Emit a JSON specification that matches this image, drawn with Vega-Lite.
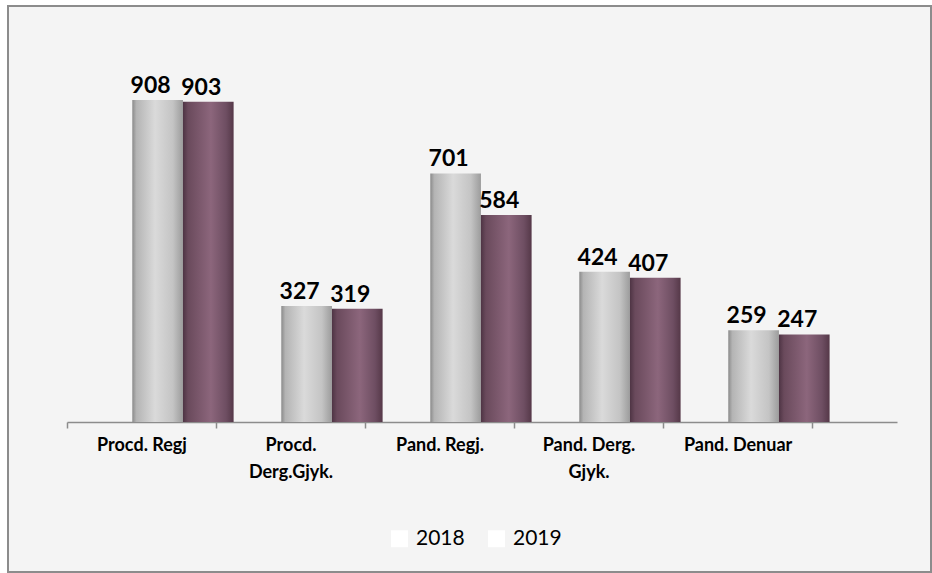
{
  "$schema": "https://vega.github.io/schema/vega-lite/v6.json",
  "width": 923,
  "height": 566,
  "autosize": {"type": "none"},
  "padding": {"left": 8, "top": 6, "right": 1, "bottom": 1},
  "background": "#ffffff",
  "config": {
    "view": {"fill": "#f4f4f4", "stroke": "#8c8c8c", "strokeWidth": 2},
    "font": "Lato"
  },
  "data": {
    "values": [
      {"cat": "Procd. Regj", "year": "2018", "value": 908},
      {"cat": "Procd. Regj", "year": "2019", "value": 903},
      {"cat": "Procd. Derg.Gjyk.", "year": "2018", "value": 327},
      {"cat": "Procd. Derg.Gjyk.", "year": "2019", "value": 319},
      {"cat": "Pand. Regj.", "year": "2018", "value": 701},
      {"cat": "Pand. Regj.", "year": "2019", "value": 584},
      {"cat": "Pand. Derg. Gjyk.", "year": "2018", "value": 424},
      {"cat": "Pand. Derg. Gjyk.", "year": "2019", "value": 407},
      {"cat": "Pand. Denuar", "year": "2018", "value": 259},
      {"cat": "Pand. Denuar", "year": "2019", "value": 247}
    ]
  },
  "resolve": {"scale": {"x": "independent"}},
  "layer": [
    {
      "encoding": {
        "x": {"field": "cat", "type": "nominal", "sort": null, "axis": null,
          "scale": {"domain": ["Procd. Regj", "Procd. Derg.Gjyk.", "Pand. Regj.", "Pand. Derg. Gjyk.", "Pand. Denuar"], "range": [124.3, 821.6], "paddingInner": 0.32, "paddingOuter": 0}},
        "xOffset": {"field": "year", "type": "nominal", "scale": {"domain": ["2018", "2019"], "paddingInner": 0, "paddingOuter": 0}},
        "y": {"field": "value", "type": "quantitative", "axis": null, "scale": {"domain": [0, 1173], "range": [416, 0], "nice": false}}
      },
      "layer": [
        {
          "transform": [{"filter": "datum.year == '2018'"}],
          "mark": {
            "type": "bar",
            "fill": {"gradient": "linear", "x1": 0, "x2": 1, "y1": 0, "y2": 0,
              "stops": [
                {"offset": 0, "color": "#8a8a8a"},
                {"offset": 0.08, "color": "#b4b4b4"},
                {"offset": 0.45, "color": "#dadada"},
                {"offset": 0.8, "color": "#c4c4c4"},
                {"offset": 1, "color": "#9c9c9c"}
              ]}
          }
        },
        {
          "transform": [{"filter": "datum.year == '2019'"}],
          "mark": {
            "type": "bar",
            "fill": {"gradient": "linear", "x1": 0, "x2": 1, "y1": 0, "y2": 0,
              "stops": [
                {"offset": 0, "color": "#4e3444"},
                {"offset": 0.1, "color": "#6a4a5c"},
                {"offset": 0.55, "color": "#8c667c"},
                {"offset": 0.85, "color": "#6e4e62"},
                {"offset": 1, "color": "#553848"}
              ]}
          }
        },
        {
          "mark": {"type": "text", "baseline": "alphabetic", "dy": -7, "dx": -7, "font": "Lato", "fontWeight": "bold", "fontSize": 23, "color": "#000000"},
          "encoding": {
            "text": {"field": "value", "type": "quantitative"}
          }
        }
      ]
    },
    {
      "mark": {"type": "square", "opacity": 0, "filled": true},
      "encoding": {
        "x": {"field": "cat", "type": "nominal", "sort": null,
          "scale": {"domain": ["Procd. Regj", "Procd. Derg.Gjyk.", "Pand. Regj.", "Pand. Derg. Gjyk.", "Pand. Denuar"], "range": [59, 889], "paddingInner": 0, "paddingOuter": 0.285, "align": 0},
          "axis": {
            "title": null, "orient": "bottom", "offset": -150,
            "domainColor": "#8c8c8c", "domainWidth": 1.5,
            "tickBand": "extent", "tickColor": "#8c8c8c", "tickSize": 6, "tickWidth": 1.5,
            "labelFont": "Lato", "labelFontWeight": "bold", "labelFontSize": 18, "labelColor": "#000000",
            "labelPadding": 8, "labelLineHeight": 27, "labelAngle": 0, "labelLimit": 300,
            "labelExpr": "datum.value == 'Procd. Derg.Gjyk.' ? ['Procd.', 'Derg.Gjyk.'] : datum.value == 'Pand. Derg. Gjyk.' ? ['Pand. Derg.', 'Gjyk.'] : datum.value"
          }},
        "color": {"field": "year", "type": "nominal",
          "scale": {"domain": ["2018", "2019"], "range": ["#ffffff", "#ffffff"]},
          "legend": {"orient": "none", "legendX": 381, "legendY": 522, "direction": "horizontal", "title": null,
            "symbolType": "square", "symbolSize": 289, "symbolOpacity": 1, "symbolStrokeWidth": 0,
            "labelFont": "Lato", "labelFontSize": 21, "labelColor": "#000000", "labelOffset": 6, "columnPadding": 21, "padding": 0}}
      }
    }
  ]
}
